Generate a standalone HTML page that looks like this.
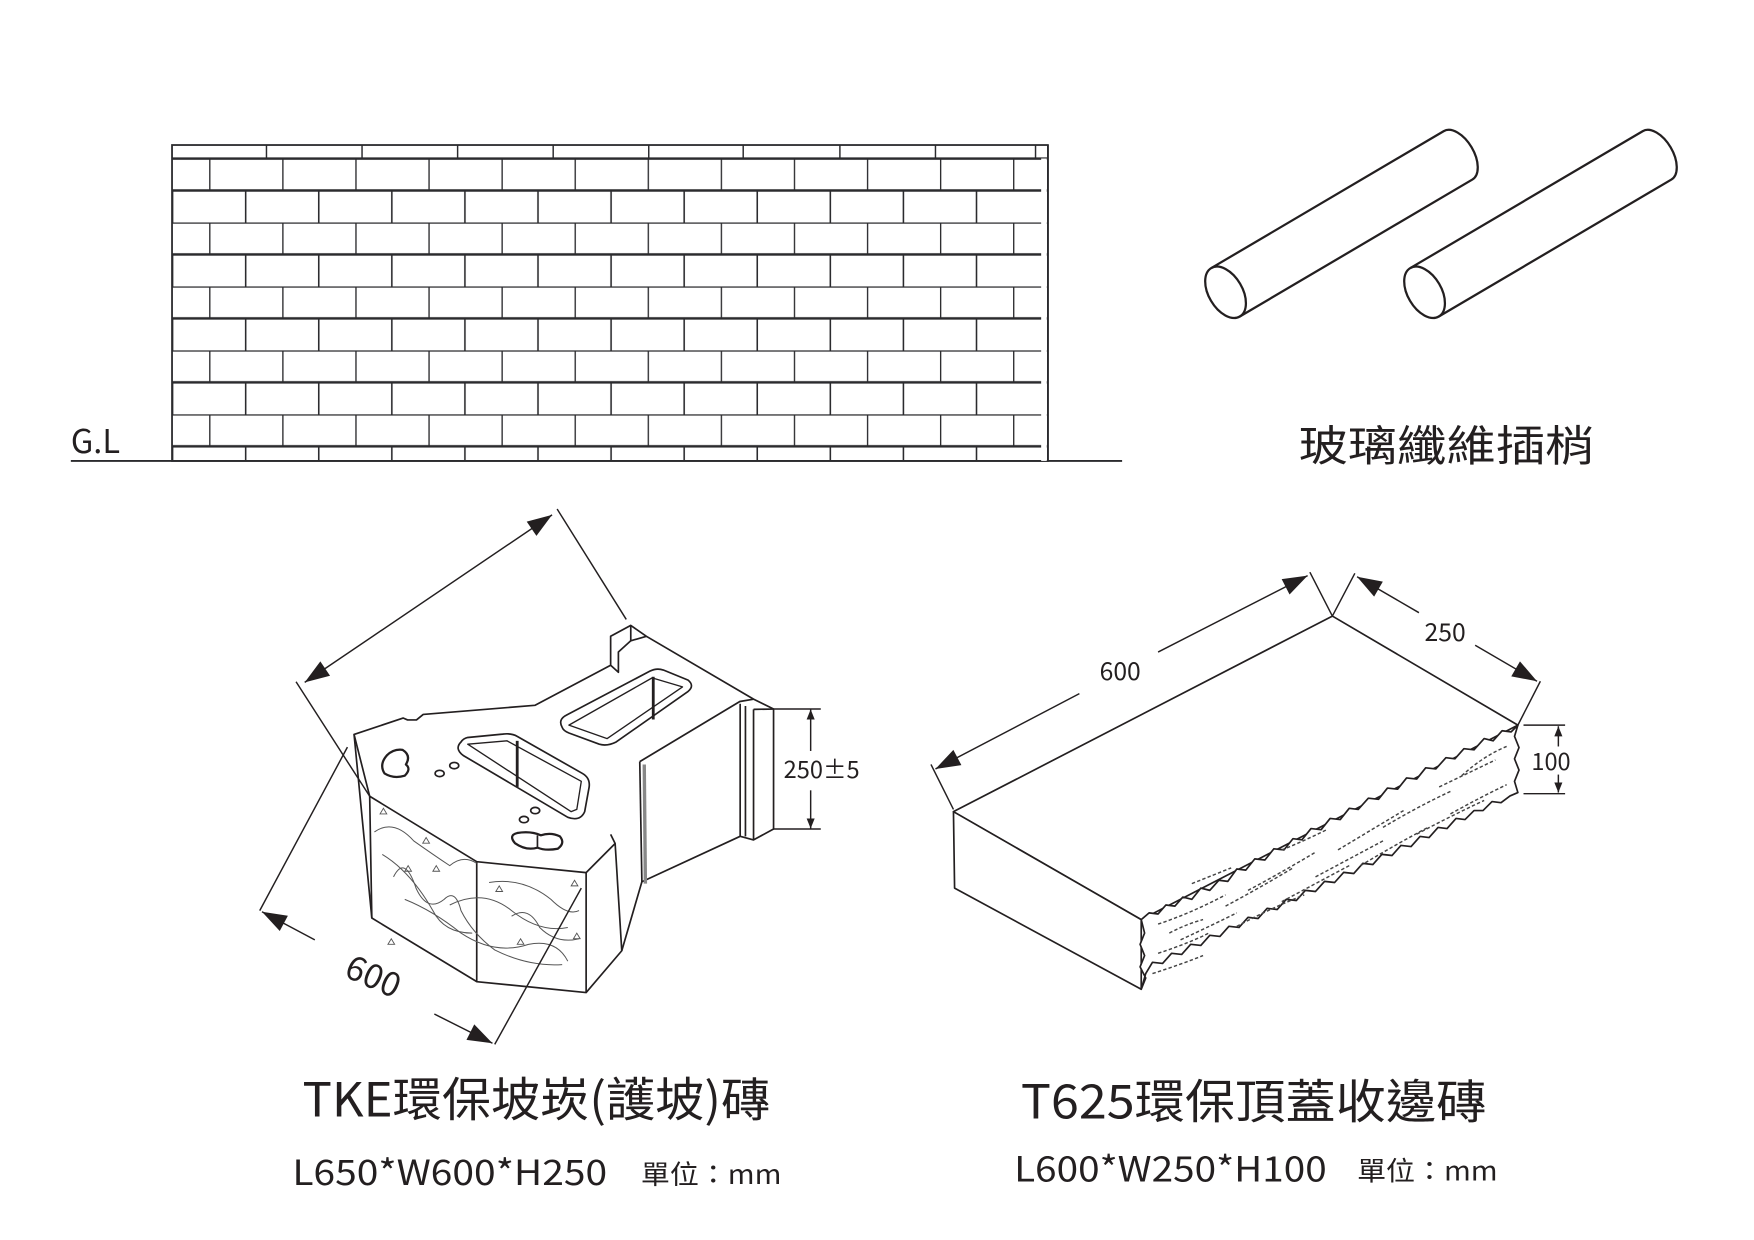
<!DOCTYPE html>
<html><head><meta charset="utf-8"><style>
html,body{margin:0;padding:0;background:#fff;}
svg{display:block;}
text{font-family:"Noto Sans CJK TC","Liberation Sans",sans-serif;fill:#231f20;}
</style></head><body>
<svg width="1754" height="1240" viewBox="0 0 1560 1103" preserveAspectRatio="none" xmlns="http://www.w3.org/2000/svg">
<defs>
<pattern id="br" patternUnits="userSpaceOnUse" x="186" y="141" width="65" height="56.89">
<line x1="0" y1="0" x2="65" y2="0" stroke="#2b2b2e" stroke-width="2.2"/>
<line x1="0" y1="28.44" x2="65" y2="28.44" stroke="#2b2b2e" stroke-width="2.2"/>
<line x1="0.5" y1="0" x2="0.5" y2="28.44" stroke="#2b2b2e" stroke-width="1.4"/>
<line x1="32.5" y1="28.44" x2="32.5" y2="56.89" stroke="#2b2b2e" stroke-width="1.4"/>
</pattern>
<marker id="ar" viewBox="0 0 10 10" refX="10" refY="5" markerWidth="9" markerHeight="9" orient="auto-start-reverse" markerUnits="userSpaceOnUse"><path d="M0,1 L10,5 L0,9 Z" fill="#231f20"/></marker>
<marker id="arB" viewBox="0 0 10 10" refX="10" refY="5" markerWidth="34" markerHeight="22" orient="auto-start-reverse" markerUnits="userSpaceOnUse"><path d="M0,1.5 L10,5 L0,8.5 Z" fill="#231f20"/></marker>
</defs>

<rect x="153" y="141" width="779" height="269" fill="url(#br)"/>
<g stroke="#2b2b2e" fill="none">
<rect x="153" y="129" width="779" height="281" stroke-width="1.6"/>
<line x1="153" y1="141" x2="932" y2="141" stroke-width="2"/>
<g stroke-width="1.3">
<line x1="237" y1="129" x2="237" y2="141"/><line x1="322" y1="129" x2="322" y2="141"/><line x1="407" y1="129" x2="407" y2="141"/><line x1="492" y1="129" x2="492" y2="141"/><line x1="577" y1="129" x2="577" y2="141"/><line x1="661" y1="129" x2="661" y2="141"/><line x1="747" y1="129" x2="747" y2="141"/><line x1="832" y1="129" x2="832" y2="141"/><line x1="921" y1="129" x2="921" y2="141"/>
</g>
<line x1="63" y1="410" x2="998" y2="410" stroke-width="1.6"/>
</g>
<rect x="926" y="141" width="5" height="269" fill="#fff"/>
<line x1="932" y1="129" x2="932" y2="410" stroke="#2b2b2e" stroke-width="1.6"/>
<text x="63" y="403" font-size="29">G.L</text>

<g stroke="#231f20" stroke-width="2" fill="none">
<g transform="translate(1090,260) rotate(-30.5)">
<ellipse cx="0" cy="0" rx="15" ry="25"/>
<path d="M0,-25 L240,-25 A14,25 0 0 1 240,25 L0,25"/>
</g>
<g transform="translate(1267,260) rotate(-30.5)">
<ellipse cx="0" cy="0" rx="15" ry="25"/>
<path d="M0,-25 L240,-25 A14,25 0 0 1 240,25 L0,25"/>
</g>
</g>
<text x="1155" y="410" font-size="38" textLength="263" lengthAdjust="spacingAndGlyphs">玻璃纖維插梢</text>

<g stroke="#231f20" stroke-width="1.5" fill="#fff" stroke-linejoin="round">
<path d="M314.9,653.3 L358.5,638.7 L362.5,640.4 L370.4,640.4 L376.4,635.5 L475.7,627.4 L543.1,591.8 L543.1,566 L561,556.3 L574.9,566 L670.2,621.9 L688,630.7 L688,737.4 L670.2,747.1 L658.3,743.9 L570.9,784.3 L553,845.7 L521.3,882.9 L424,873.2 L330.7,816.6 Z"/>
<path d="M328.8,708.3 L424,766.5 L521.3,776.2 L547.1,750.3 L543.1,742.2" fill="none"/>
<path d="M314.9,653.3 L328.8,708.3 L330.7,816.6" fill="none"/>
<line x1="424" y1="766.5" x2="424" y2="873.2"/>
<line x1="521.3" y1="776.2" x2="521.3" y2="882.9"/>
<path d="M547.1,750.3 L553,845.7" fill="none"/>
<path d="M569,677.5 L570.9,784.3" fill="none"/>
<path d="M569,677.5 L658,624 L670.2,621.9" fill="none"/>
<path d="M658.3,626 L658.3,743.9" fill="none"/>
<path d="M663,628 L663,744" fill="none"/>
<path d="M670.2,631 L670.2,747.1" fill="none"/>
<path d="M670.2,631 L688,630.7" fill="none"/>
<path d="M543.1,591.8 L550,598 L550,580 L561,570" fill="none"/>
<path d="M561,556.3 L561,570 L574.9,566" fill="none"/>
<line x1="573" y1="680" x2="574" y2="786" stroke-width="3" stroke="#888"/>
<path d="M410,660 Q404,666 412,672 L505,727 Q516,731 520,722 L524,700 Q525,692 518,688 L460,655 Q455,652 447,653 L416,656 Q412,657 410,660 Z"/>
<path d="M416,662 L451,659 L517,695 L513,720 L508,722 Z" stroke-width="1.2"/>
<path d="M500,647 Q496,640 504,636 L578,597 Q584,594 590,596 L612,605 Q618,610 612,615 L548,660 Q540,664 533,662 L506,652 Q501,650 500,647 Z"/>
<path d="M506,645 L580,603 L607,611 L540,657 Z" stroke-width="1.2"/>
<line x1="460" y1="659" x2="460" y2="700" stroke-width="2.5"/>
<line x1="581" y1="602" x2="581" y2="640" stroke-width="2.5"/>
<path d="M344,672 Q337,680 342,688 Q350,693 360,690 Q366,684 361,680 Q366,672 358,667 Q350,666 344,672 Z" stroke-width="2"/>
<path d="M458,750 Q452,743 460,741 Q472,739 481,743 Q490,740 498,744 Q503,750 496,755 Q485,757 478,754 Q468,757 458,750 Z" stroke-width="2"/>
<line x1="478" y1="743" x2="478" y2="754"/>
<ellipse cx="391" cy="688" rx="4" ry="2.8" fill="none"/>
<ellipse cx="404" cy="681" rx="4" ry="2.8" fill="none"/>
<ellipse cx="466" cy="729" rx="4" ry="2.8" fill="none"/>
<ellipse cx="476" cy="721" rx="4" ry="2.8" fill="none"/>
</g>
<g stroke="#555" stroke-width="0.9" fill="none">
<path d="M333,740 Q350,728 368,748 Q385,760 400,770 Q412,760 424,768"/>
<path d="M350,780 Q360,760 370,790 Q380,812 395,800 Q405,790 410,810 Q420,830 440,845 Q470,860 500,858"/>
<path d="M360,800 Q385,810 410,830 Q440,850 470,840 Q495,835 505,855"/>
<path d="M400,805 Q430,790 455,810 Q480,830 505,825"/>
<path d="M435,785 Q465,780 490,800 Q505,815 515,810"/>
<path d="M455,815 Q470,805 480,825 Q495,840 515,835"/>
<path d="M340,760 Q365,775 385,810 Q395,830 420,830"/>
</g>
<g fill="none" stroke="#555" stroke-width="0.8">
<path d="M338,724 l3,-5 l3,5 z M360,775 l3,-5 l3,5 z M385,775 l3,-5 l3,5 z M441,793 l3,-5 l3,5 z M345,840 l3,-5 l3,5 z M460,840 l3,-5 l3,5 z M508,788 l3,-5 l3,5 z M510,835 l3,-5 l3,5 z M376,750 l3,-5 l3,5 z"/>
</g>

<g stroke="#231f20" stroke-width="1.3" fill="none">
<line x1="271" y1="607" x2="491" y2="458" marker-start="url(#arB)" marker-end="url(#arB)"/>
<line x1="495.5" y1="452.8" x2="557" y2="551"/>
<line x1="263.3" y1="606.4" x2="328.8" y2="708.3"/>
<line x1="309" y1="664.6" x2="231" y2="810"/>
<line x1="280" y1="836" x2="233" y2="811" marker-end="url(#arB)"/>
<line x1="386.3" y1="902" x2="438" y2="928" marker-end="url(#arB)"/>
<line x1="440" y1="929" x2="517" y2="790"/>
<line x1="688" y1="630.7" x2="730" y2="630.7"/>
<line x1="688" y1="737.4" x2="730" y2="737.4"/>
<line x1="721" y1="668" x2="721" y2="631" marker-end="url(#ar)"/>
<line x1="721" y1="703" x2="721" y2="737" marker-end="url(#ar)"/>
</g>
<text x="697" y="692" font-size="21">250±5</text>
<text x="0" y="0" font-size="30" transform="translate(305,868) rotate(24)">600</text>

<g stroke="#231f20" stroke-width="1.5" fill="#fff" stroke-linejoin="round">
<path d="M848,722 L1185,548 L1350,645 L1015,818 Z"/>
<path d="M848,722 L1015,818 L1015,880 L849,790 Z"/>
<path d="M1015,818 L1022,812 L1030,813 L1037,805 L1045,806 L1052,798 L1060,800 L1068,790 L1076,792 L1084,783 L1092,784 L1100,773 L1108,774 L1116,764 L1125,765 L1133,755 L1142,756 L1150,746 L1158,747 L1166,737 L1175,738 L1183,728 L1192,729 L1200,719 L1208,720 L1217,710 L1226,711 L1234,701 L1243,702 L1251,692 L1260,693 L1268,683 L1277,684 L1286,674 L1294,675 L1302,666 L1311,667 L1320,657 L1328,659 L1336,650 L1344,651 L1350,645 L1347,655 L1351,665 L1347,675 L1351,685 L1347,695 L1350,705 L1343,708 L1335,714 L1327,713 L1319,721 L1311,721 L1303,729 L1295,728 L1287,737 L1279,736 L1271,745 L1263,744 L1255,753 L1246,752 L1238,761 L1229,760 L1221,769 L1212,768 L1204,777 L1195,776 L1187,785 L1178,784 L1170,793 L1161,792 L1153,801 L1144,800 L1136,809 L1127,808 L1119,817 L1110,816 L1102,825 L1093,824 L1085,833 L1076,832 L1068,841 L1059,840 L1051,849 L1042,848 L1034,857 L1025,856 L1019,866 L1015,880 L1019,870 L1014,860 L1018,850 L1014,840 L1018,830 Z"/>
</g>
<g stroke="#444" stroke-width="1.3" fill="none" stroke-dasharray="3 2">
<path d="M1030,822 Q1060,812 1090,796 M1050,836 Q1080,822 1100,812 M1030,848 Q1060,838 1075,830 M1025,866 Q1050,858 1070,850"/>
<path d="M1090,806 Q1120,790 1150,772 M1110,792 Q1140,776 1170,758 M1100,824 Q1130,808 1160,796 M1140,802 Q1170,786 1200,770"/>
<path d="M1170,780 Q1200,764 1230,748 M1190,756 Q1220,738 1250,720 M1210,770 Q1240,752 1270,736 M1230,736 Q1260,718 1290,704"/>
<path d="M1260,742 Q1290,726 1320,712 M1280,700 Q1305,688 1330,676 M1290,724 Q1315,710 1340,698 M1300,690 Q1320,672 1340,664"/>
<path d="M1060,786 Q1080,778 1095,772 M1140,756 Q1160,748 1180,738 M1040,830 Q1055,822 1070,818"/>
</g>
<g stroke="#231f20" stroke-width="1.3" fill="none">
<line x1="848" y1="720" x2="828" y2="680"/>
<line x1="1185" y1="548" x2="1165" y2="509"/>
<line x1="1185" y1="548" x2="1205" y2="510"/>
<line x1="1350" y1="645" x2="1370" y2="606"/>
<line x1="832" y1="684" x2="960" y2="617" marker-start="url(#arB)"/>
<line x1="1030" y1="580" x2="1163" y2="512" marker-end="url(#arB)"/>
<line x1="1207" y1="513" x2="1262" y2="545" marker-start="url(#arB)"/>
<line x1="1312" y1="574" x2="1367" y2="606" marker-end="url(#arB)"/>
<line x1="1355" y1="645" x2="1392" y2="645"/>
<line x1="1355" y1="706" x2="1392" y2="706"/>
<line x1="1386" y1="664" x2="1386" y2="646" marker-end="url(#ar)"/>
<line x1="1386" y1="689" x2="1386" y2="705" marker-end="url(#ar)"/>
</g>
<text x="978" y="605" font-size="22">600</text>
<text x="1267" y="570" font-size="22">250</text>
<text x="1362" y="685" font-size="21">100</text>

<text x="269" y="993" font-size="42" textLength="416" lengthAdjust="spacingAndGlyphs">TKE環保坡崁(護坡)磚</text>
<text x="260" y="1054" font-size="31" textLength="280" lengthAdjust="spacingAndGlyphs">L650*W600*H250</text>
<text x="570" y="1053" font-size="24" textLength="125" lengthAdjust="spacingAndGlyphs">單位：mm</text>
<text x="908" y="995" font-size="42" textLength="414" lengthAdjust="spacingAndGlyphs">T625環保頂蓋收邊磚</text>
<text x="902" y="1051" font-size="31" textLength="278" lengthAdjust="spacingAndGlyphs">L600*W250*H100</text>
<text x="1207" y="1050" font-size="24" textLength="125" lengthAdjust="spacingAndGlyphs">單位：mm</text>
</svg>
</body></html>
